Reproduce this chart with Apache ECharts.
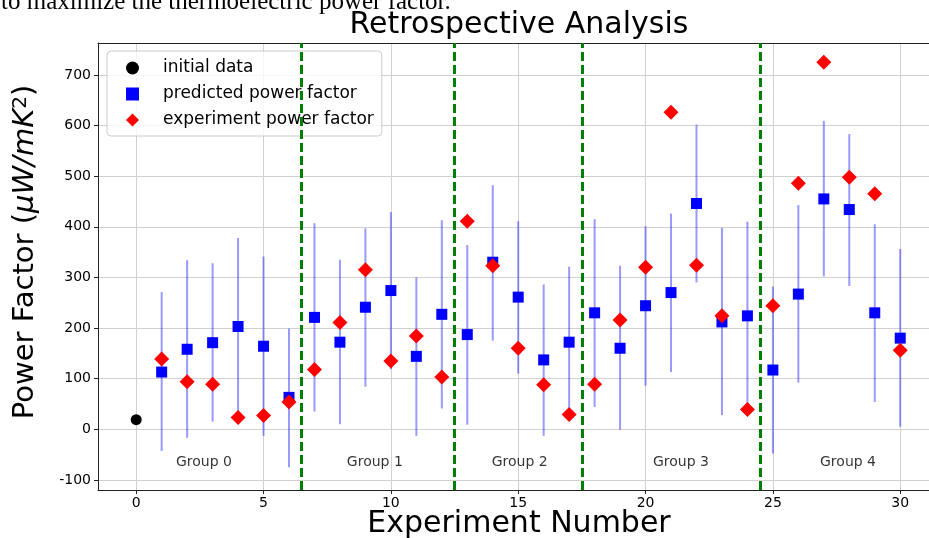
<!DOCTYPE html>
<html>
<head>
<meta charset="utf-8">
<script src="https://cdn.jsdelivr.net/npm/echarts@6/dist/echarts.min.js"></script>
<style>
html,body{margin:0;padding:0;background:#fff}
#main{width:929px;height:538px}
</style>
</head>
<body>
<div id="main"></div>
<script>
// experiment numbers
var expNo = [1,2,3,4,5,6,7,8,9,10,11,12,13,14,15,16,17,18,19,20,21,22,23,24,25,26,27,28,29,30];
// predicted power factor (blue squares) and its error bar ends
var predicted = [113,158,171,203,164,63,221,172,241,274,144,227,187,330,261,137,172,230,160,244,270,446,212,224,117,267,455,434,230,180];
var predUpper = [271,334,328,378,341,199,407,335,397,429,300,413,364,482,411,286,321,415,323,401,426,602,398,410,282,443,609,583,405,356];
var predLower = [-43,-17,15,28,-13,-75,35,10,84,119,-13,41,9,175,110,-13,23,44,-1,86,113,290,28,38,-48,92,302,283,54,5];
// experiment power factor (red diamonds)
var experiment = [139,94,89,23,27,54,118,211,315,135,184,103,411,323,160,88,29,89,216,320,626,324,224,39,244,486,725,498,465,156];
// initial data (black dot)
var initialX = [0];
var initialY = [19];
// group separators and labels
var boundaries = [6.5, 12.5, 17.5, 24.5];
var groupNames = ['Group 0','Group 1','Group 2','Group 3','Group 4'];
var groupLabelX = [2.66, 9.37, 15.06, 21.39, 27.95];
var groupLabelY = -66;

var myChart = echarts.init(document.getElementById('main'));
var font = '"DejaVu Sans", sans-serif';

var errData = [];
for (var i = 0; i < expNo.length; i++) {
	errData.push([expNo[i], predLower[i], predUpper[i]]);
}
var initData = [];
for (var i = 0; i < initialX.length; i++) {
	initData.push([initialX[i], initialY[i]]);
}
var predData = [];
var expData = [];
for (var i = 0; i < expNo.length; i++) {
	predData.push([expNo[i], predicted[i]]);
	expData.push([expNo[i], experiment[i]]);
}
var groupData = [];
for (var i = 0; i < groupNames.length; i++) {
	groupData.push({name: groupNames[i], value: [groupLabelX[i], groupLabelY]});
}

// the plot runs past the right edge of the picture
var xMin = -1.5, xMax = 31.13;

var option = {
	animation: false,
	backgroundColor: '#fff',
	grid: {
		left: 98, right: 0, top: 43, bottom: 48,
		show: false
	},
	legend: {
		orient: 'vertical',
		left: 107, top: 51,
		padding: [7, 8, 6, 19],
		itemWidth: 13, itemHeight: 13, itemGap: 6,
		backgroundColor: 'rgba(255,255,255,0.8)',
		borderColor: '#ccc', borderWidth: 1, borderRadius: 4,
		textStyle: {fontFamily: font, fontSize: 17, color: '#000', lineHeight: 20, padding: [0, 0, 0, 19]},
		data: [
			{name: 'initial data', icon: 'circle'},
			{name: 'predicted power factor', icon: 'rect'},
			{name: 'experiment power factor', icon: 'diamond'}
		]
	},
	xAxis: [
		{
			type: 'value', min: xMin, max: xMax,
			minInterval: 5, maxInterval: 5, splitNumber: 6,
			axisLine: {show: true, onZero: false, lineStyle: {color: '#222'}},
			axisTick: {show: true, length: 4, lineStyle: {color: '#222'}},
			axisLabel: {fontFamily: font, fontSize: 14, color: '#000', margin: 6, showMinLabel: false, showMaxLabel: false},
			splitLine: {show: true, lineStyle: {color: '#d0d0d0', width: 1}}
		},
		{
			// top spine only
			type: 'value', position: 'top', min: xMin, max: xMax,
			axisLine: {show: true, onZero: false, lineStyle: {color: '#222'}},
			axisTick: {show: false},
			axisLabel: {show: false},
			splitLine: {show: false}
		}
	],
	yAxis: {
		type: 'value', min: -120, max: 763,
		minInterval: 100, maxInterval: 100, splitNumber: 8,
		axisLine: {show: true, onZero: false, lineStyle: {color: '#222'}},
		axisTick: {show: true, length: 4, lineStyle: {color: '#222'}},
		axisLabel: {fontFamily: font, fontSize: 14, color: '#000', margin: 7, showMinLabel: false, showMaxLabel: false},
		splitLine: {show: true, lineStyle: {color: '#d0d0d0', width: 1}}
	},
	series: [
		{
			name: 'error',
			type: 'custom',
			z: 2,
			data: errData,
			encode: {x: 0, y: [1, 2]},
			renderItem: function (params, api) {
				var p1 = api.coord([api.value(0), api.value(1)]);
				var p2 = api.coord([api.value(0), api.value(2)]);
				return {
					type: 'line',
					shape: {x1: p1[0], y1: p1[1], x2: p2[0], y2: p2[1]},
					style: {stroke: 'rgba(0,0,255,0.4)', lineWidth: 2}
				};
			}
		},
		{
			name: 'initial data',
			type: 'scatter',
			z: 3,
			symbol: 'circle', symbolSize: 11,
			itemStyle: {color: '#000', opacity: 1},
			data: initData
		},
		{
			name: 'predicted power factor',
			type: 'scatter',
			z: 4,
			symbol: 'rect', symbolSize: 11,
			itemStyle: {color: '#0000ff', opacity: 1},
			data: predData
		},
		{
			name: 'experiment power factor',
			type: 'scatter',
			z: 5,
			symbol: 'diamond', symbolSize: 15,
			itemStyle: {color: '#ff0000', opacity: 1},
			data: expData
		},
		{
			name: 'groups',
			type: 'scatter',
			z: 1,
			symbolSize: 1,
			itemStyle: {color: 'rgba(0,0,0,0)'},
			label: {show: true, position: 'inside', formatter: '{b}', fontFamily: font, fontSize: 14, color: '#000'},
			data: groupData,
			markLine: {
				silent: true,
				symbol: ['none', 'none'],
				label: {show: false},
				lineStyle: {color: '#008000', width: 3, type: [9, 4], opacity: 1},
				data: boundaries.map(function (v) { return {xAxis: v}; })
			}
		}
	],
	graphic: [
		{
			type: 'text', x: 1, y: 2,
			style: {text: 'to maximize the thermoelectric power factor.', font: '25px "Liberation Serif", serif', fill: '#000', verticalAlign: 'middle'}
		},
		{
			type: 'text', x: 519, y: 25,
			style: {text: 'Retrospective Analysis', font: '30px "DejaVu Sans"', fill: '#000', align: 'center', verticalAlign: 'middle'}
		},
		{
			type: 'text', x: 519, y: 524,
			style: {text: 'Experiment Number', font: '30px "DejaVu Sans"', fill: '#000', align: 'center', verticalAlign: 'middle'}
		},
		{
			type: 'text', x: 25.5, y: 252, rotation: Math.PI / 2,
			style: {
				text: '{n|Power Factor (}{i|μW/mK}{s|2}{n|)}',
				align: 'center', verticalAlign: 'middle',
				rich: {
					n: {fontFamily: 'DejaVu Sans', fontSize: 29, color: '#000'},
					i: {fontFamily: 'DejaVu Sans', fontStyle: 'italic', fontSize: 29, color: '#000'},
					s: {fontFamily: 'DejaVu Sans', fontSize: 20, color: '#000', verticalAlign: 'top'}
				}
			}
		}
	]
};
myChart.setOption(option);
</script>
</body>
</html>
